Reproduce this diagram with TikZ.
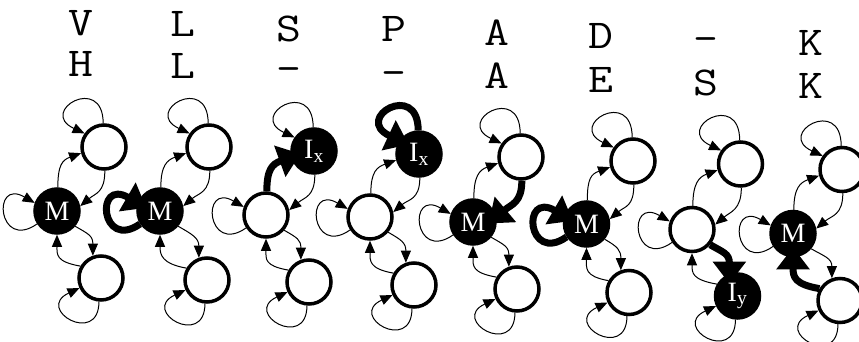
\documentclass[tikz,border=0pt]{standalone}
\usepackage{fontspec}
\setmainfont{Liberation Serif}
\usetikzlibrary{arrows.meta}
\pgfdeclarelayer{bg}
\pgfsetlayers{bg,main}
\newcommand\wlt[1]{\scalebox{1.18}[1]{#1}}
\tikzset{
  open/.style={circle,draw,line width=3.5pt,minimum size=44pt,inner sep=0pt,fill=white},
  full/.style={circle,draw,fill=black,line width=3.5pt,minimum size=44pt,inner sep=0pt,text=white,font=\fontsize{28}{28}\selectfont},
  lab/.style={anchor=base,inner sep=0pt,font=\ttfamily\fontsize{41}{41}\selectfont},
  ed/.style={line width=1pt,-{Triangle[length=12pt,width=10pt]}},
  edb/.style={line width=7pt,-{Triangle[length=22pt,width=32pt]},shorten >=-10pt},
}
\newcommand\tricol[8]{%
  \draw[#2] (#1T.92) .. controls +(90:50) and +(155:52) .. (#1T.145);
  \draw[#3] (#1M.88) .. controls +(90:22) and +(200:20) .. (#1T.195);
  \draw[#4] (#1T.-88) .. controls +(-90:22) and +(40:20) .. (#1M.12);
  \draw[#5] (#1M.213) .. controls +(215:48) and +(150:50) .. (#1M.160);
  \draw[#6] (#1M.-40) .. controls +(-30:15) and +(90:20) .. (#1B.110);
  \draw[#7] (#1B.150) .. controls +(170:25) and +(-90:20) .. (#1M.-90);
  \draw[#8] (#1B.-95) .. controls +(-90:45) and +(205:50) .. (#1B.205);
}
\begin{document}
\begin{tikzpicture}[x=1pt,y=1pt]
\useasboundingbox (0,0) rectangle (859,341);
% labels
\node[lab] (aL1) at (81,305.5) {\wlt{V}};
\node[lab] (aL2) at (81,264.5) {\wlt{H}};
\node[lab] (bL1) at (183,305) {\wlt{L}};
\node[lab] (bL2) at (183,263) {\wlt{L}};
\node[lab] (cL1) at (289,299) {\wlt{S}};
\node[lab] (cL2) at (289,260) {\wlt{-}};
\node[lab] (dL1) at (394,299) {\wlt{P}};
\node[lab] (dL2) at (394,256) {\wlt{-}};
\node[lab] (eL1) at (497,296) {\wlt{A}};
\node[lab] (eL2) at (497,253) {\wlt{A}};
\node[lab] (fL1) at (601,293) {\wlt{D}};
\node[lab] (fL2) at (601,249) {\wlt{E}};
\node[lab] (gL1) at (706,290) {\wlt{-}};
\node[lab] (gL2) at (706,246) {\wlt{S}};
\node[lab] (hL1) at (811,286) {\wlt{K}};
\node[lab] (hL2) at (811,243) {\wlt{K}};
% nodes
\node[full] (aM) at (57,130) {M};
\node[open] (aT) at (104,194) {};
\node[open] (aB) at (101,63) {};
\node[full] (bM) at (160,130) {M};
\node[open] (bT) at (209,194) {};
\node[open] (bB) at (207,61) {};
\node[open] (cM) at (266,126) {};
\node[full] (cT) at (314,190) {I\textsubscript{x}};
\node[open] (cB) at (309,59) {};
\node[open] (dM) at (370,124) {};
\node[full] (dT) at (419,187) {I\textsubscript{x}};
\node[open] (dB) at (414,56) {};
\node[full] (eM) at (473,119) {M};
\node[open] (eT) at (521,184) {};
\node[open] (eB) at (517,52) {};
\node[full] (fM) at (586.5,117) {M};
\node[open] (fT) at (633,180) {};
\node[open] (fB) at (629,48.5) {};
\node[open] (gM) at (692,111.5) {};
\node[open] (gT) at (740.5,177) {};
\node[full] (gB) at (737.5,45) {I\textsubscript{y}};
\node[full] (hM) at (793,107.5) {M};
\node[open] (hT) at (842,171.5) {};
\node[open] (hB) at (840,40.5) {};
\begin{pgfonlayer}{bg}
\tricol{a}{ed}{ed}{ed}{ed}{ed}{ed}{ed}
\tricol{b}{ed}{ed}{ed}{edb}{ed}{ed}{ed}
\tricol{c}{ed}{edb}{ed}{ed}{ed}{ed}{ed}
\tricol{d}{edb}{ed}{ed}{ed}{ed}{ed}{ed}
\tricol{e}{ed}{ed}{edb}{ed}{ed}{ed}{ed}
\tricol{f}{ed}{ed}{ed}{edb}{ed}{ed}{ed}
\tricol{g}{ed}{ed}{ed}{ed}{edb}{ed}{ed}
\tricol{h}{ed}{ed}{ed}{ed}{ed}{edb}{ed}
\end{pgfonlayer}
\end{tikzpicture}
\end{document}
